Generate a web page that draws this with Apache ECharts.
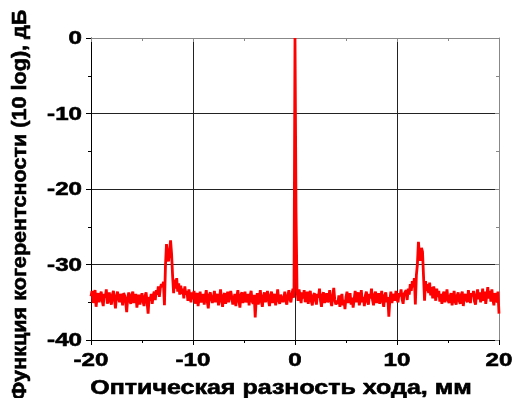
<!DOCTYPE html>
<html>
<head>
<meta charset="utf-8">
<script src="https://cdn.jsdelivr.net/npm/echarts@6/dist/echarts.min.js"></script>
<style>html,body{margin:0;padding:0;background:#fff}#c{width:515px;height:398px}</style>
</head>
<body>
<div id="c"></div>
<script>
// Optical path difference grid (mm): start and step of the sampled values below
const xStart = -20;
const xStep = 0.1;
// Coherence function (dB), one value per 0.1 mm from -20 to 20
const coherenceDb = [
  -34.2,-33.5,-35.1,-34.0,-33.4,-35.6,-34.3,-33.8,-35.0,-34.1,
  -33.6,-34.8,-35.5,-33.9,-34.4,-33.3,-35.2,-34.6,-33.7,-34.9,
  -35.3,-34.0,-33.5,-34.7,-35.8,-34.2,-33.6,-34.5,-35.0,-33.9,
  -34.3,-35.4,-33.8,-34.1,-35.0,-36.3,-34.4,-33.7,-34.8,-35.2,
  -34.0,-33.6,-35.1,-34.5,-33.9,-35.7,-34.6,-34.0,-35.3,-34.4,
  -33.8,-34.9,-35.5,-34.2,-33.7,-35.0,-36.5,-34.3,-34.8,-33.9,
  -35.2,-34.1,-33.6,-34.7,-33.4,-34.0,-32.9,-34.3,-33.1,-32.6,
  -33.0,-32.3,-35.4,-30.2,-27.3,-28.8,-29.6,-28.2,-26.8,-28.6,
  -31.5,-33.8,-32.0,-33.2,-31.8,-33.6,-32.5,-34.0,-32.8,-33.9,
  -33.2,-34.5,-32.9,-34.0,-33.5,-34.8,-33.3,-34.2,-35.0,-33.7,
  -34.6,-33.5,-35.2,-34.1,-33.8,-35.5,-34.4,-33.6,-35.0,-34.7,
  -33.9,-35.3,-34.2,-33.4,-34.9,-35.8,-34.0,-33.7,-34.6,-35.1,
  -34.3,-33.5,-35.0,-34.8,-33.9,-35.4,-34.5,-33.3,-34.7,-35.6,
  -34.1,-33.8,-35.2,-34.4,-33.6,-35.0,-34.9,-33.5,-34.3,-35.3,
  -34.6,-33.9,-35.5,-34.2,-33.4,-34.8,-35.7,-34.0,-33.7,-35.1,
  -34.4,-33.6,-35.0,-34.7,-33.9,-35.4,-34.1,-33.5,-34.9,-35.2,
  -34.0,-37.0,-34.6,-33.8,-35.3,-34.5,-33.4,-34.9,-35.6,-34.2,
  -33.7,-35.0,-34.4,-33.5,-34.8,-35.5,-34.1,-33.6,-35.1,-34.3,
  -33.9,-35.4,-34.6,-33.3,-34.7,-35.2,-34.0,-33.8,-35.0,-34.5,
  -33.6,-34.9,-35.3,-34.1,-33.4,-34.6,-35.0,-33.9,-33.2,-34.4,
  0,
  -23.0,-33.5,-34.8,-33.3,-34.2,-35.1,-33.7,-34.5,-33.4,-35.0,
  -34.3,-33.6,-35.2,-34.0,-33.5,-34.9,-35.4,-34.1,-33.8,-34.7,
  -35.3,-33.9,-34.4,-33.2,-34.8,-35.6,-34.0,-33.7,-35.1,-34.5,
  -33.8,-35.0,-34.6,-33.4,-34.9,-35.5,-34.2,-33.1,-34.7,-35.3,
  -34.8,-35.2,-34.1,-35.6,-34.5,-33.9,-35.4,-34.7,-35.9,-34.3,
  -33.6,-35.1,-34.9,-33.8,-35.3,-34.4,-35.7,-34.6,-33.5,-35.0,
  -34.2,-33.7,-35.4,-34.8,-33.4,-35.0,-34.3,-35.5,-34.1,-33.6,
  -34.9,-35.3,-33.9,-34.5,-33.2,-34.7,-35.4,-34.0,-33.6,-35.1,
  -34.4,-33.8,-35.2,-34.6,-33.5,-34.9,-35.6,-34.1,-33.7,-35.0,
  -34.3,-36.9,-34.7,-33.6,-35.1,-34.4,-33.9,-34.8,-33.5,-34.6,
  -35.0,-33.8,-34.2,-33.3,-34.6,-35.2,-33.9,-34.1,-33.4,-34.7,
  -33.2,-34.0,-32.6,-33.5,-32.2,-33.0,-31.8,-35.3,-31.4,-30.0,
  -27.0,-28.6,-29.5,-27.8,-28.3,-31.5,-34.8,-32.2,-33.5,-32.6,
  -33.8,-32.4,-34.1,-33.0,-34.5,-32.9,-33.7,-34.8,-33.2,-34.3,
  -33.5,-34.9,-33.9,-35.2,-34.0,-33.6,-35.0,-34.4,-33.3,-34.7,
  -35.1,-34.2,-33.8,-35.4,-34.6,-33.5,-34.9,-35.3,-34.1,-33.7,
  -34.8,-35.2,-34.0,-33.6,-35.5,-34.3,-33.9,-34.7,-35.0,-33.4,
  -34.5,-35.1,-33.8,-34.2,-33.5,-34.9,-35.3,-34.0,-33.3,-34.6,
  -33.7,-35.0,-34.4,-33.2,-34.8,-33.6,-35.2,-34.1,-33.0,-34.5,
  -33.5,-34.9,-33.3,-34.6,-35.4,-33.8,-34.2,-35.0,-33.6,-36.5
];
// Tick labels
const xTicks = [-20, -10, 0, 10, 20];
const yTicks = [0, -10, -20, -30, -40];
const xTitle = 'Оптическая разность хода, мм';
const yTitle = 'Функция когерентсности (10 log), дБ';

const seriesData = coherenceDb.map((v, i) => [+(xStart + i * xStep).toFixed(1), v]);

const FONT = '"Liberation Sans", Arial, sans-serif';
const grid = { left: 91, right: 16, top: 38, bottom: 58 };

const chart = echarts.init(document.getElementById('c'), null, { renderer: 'canvas' });
chart.setOption({
  animation: false,
  backgroundColor: '#fff',
  grid: grid,
  xAxis: [{
    type: 'value', min: -20, max: 20, interval: 10,
    axisLine: { onZero: false, lineStyle: { color: '#000', width: 1 } },
    axisTick: { inside: false, length: 5, lineStyle: { color: '#000' } },
    minorTick: { show: true, splitNumber: 2, length: 3, lineStyle: { color: '#000' } },
    splitLine: { show: true, lineStyle: { color: '#222', width: 1 } },
    axisLabel: { show: false }
  }, {
    type: 'value', min: -20, max: 20, interval: 10, position: 'top',
    axisLine: { onZero: false, lineStyle: { color: '#888', width: 1 } },
    axisTick: { inside: true, length: 4, lineStyle: { color: '#888' } },
    minorTick: { show: true, splitNumber: 2, length: 3, lineStyle: { color: '#888' } },
    splitLine: { show: false },
    axisLabel: { show: false }
  }],
  yAxis: [{
    type: 'value', min: -40, max: 0, interval: 10,
    axisLine: { show: true, onZero: false, lineStyle: { color: '#000', width: 1 } },
    axisTick: { show: true, inside: false, length: 5, lineStyle: { color: '#000' } },
    minorTick: { show: true, splitNumber: 2, length: 3, lineStyle: { color: '#000' } },
    splitLine: { show: true, lineStyle: { color: '#222', width: 1 } },
    axisLabel: { show: false }
  }, {
    type: 'value', min: -40, max: 0, interval: 10, position: 'right',
    axisLine: { show: true, onZero: false, lineStyle: { color: '#888', width: 1 } },
    axisTick: { show: true, inside: true, length: 4, lineStyle: { color: '#888' } },
    minorTick: { show: true, splitNumber: 2, length: 3, lineStyle: { color: '#888' } },
    splitLine: { show: false },
    axisLabel: { show: false }
  }],
  series: [{
    type: 'line',
    xAxisIndex: 0, yAxisIndex: 0,
    data: seriesData,
    showSymbol: false,
    symbol: 'none',
    sampling: null,
    lineStyle: { color: '#ff0000', width: 2.8 },
    z: 5
  }]
});

// Tick labels placed through the axes' own scales (wide heavy face as in the reference)
const graphics = [];
const bottomY = chart.convertToPixel({ yAxisIndex: 0 }, -40);
const leftX = chart.convertToPixel({ xAxisIndex: 0 }, -20);
const heavy = { fill: '#000', stroke: '#000', lineWidth: 0.6 };
xTicks.forEach(v => {
  graphics.push({
    type: 'text', x: chart.convertToPixel({ xAxisIndex: 0 }, v), y: bottomY + 21,
    scaleX: 1.27, silent: true,
    style: Object.assign({ text: String(v), font: 'bold 19px ' + FONT, textAlign: 'center', textVerticalAlign: 'middle' }, heavy)
  });
});
yTicks.forEach(v => {
  graphics.push({
    type: 'text', x: leftX - 9, y: chart.convertToPixel({ yAxisIndex: 0 }, v) + 1,
    scaleX: 1.27, silent: true,
    style: Object.assign({ text: String(v), font: 'bold 19px ' + FONT, textAlign: 'right', textVerticalAlign: 'middle' }, heavy)
  });
});
graphics.push({
  type: 'text', x: 281, y: 388, scaleX: 1.25, silent: true,
  style: Object.assign({ text: xTitle, font: 'bold 20px ' + FONT, textAlign: 'center', textVerticalAlign: 'middle' }, heavy)
});
graphics.push({
  type: 'text', x: 20, y: 205, rotation: Math.PI / 2, scaleX: 1.08, silent: true,
  style: Object.assign({ text: yTitle, font: 'bold 20px ' + FONT, textAlign: 'center', textVerticalAlign: 'middle' }, heavy)
});
chart.setOption({ graphic: graphics });
</script>
</body>
</html>
